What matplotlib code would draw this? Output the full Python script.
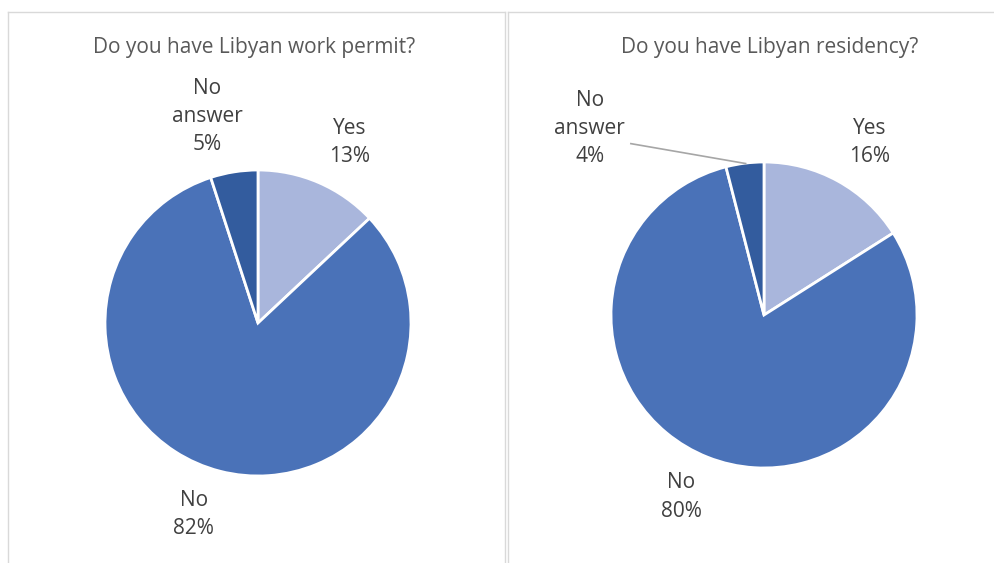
import matplotlib.pyplot as plt
from matplotlib.lines import Line2D

plt.rcParams['font.family'] = ['Open Sans', 'DejaVu Sans']

W, H = 994, 563

categories = ['Yes', 'No', 'No\nanswer']
permit_pct = [13, 82, 5]
residency_pct = [16, 80, 4]

titles = ['Do you have Libyan work permit?', 'Do you have Libyan residency?']
colors = ['#A9B6DC', '#4A72B8', '#335C9E']

# label positions (in units of pie radius) for Yes / No / No answer
permit_label_pos = [(0.60, 1.18), (-0.42, -1.25), (-0.33, 1.35)]
residency_label_pos = [(0.69, 1.13), (-0.54, -1.19), (-1.14, 1.22)]

fig = plt.figure(figsize=(W / 100, H / 100), dpi=100)
fig.patch.set_facecolor('white')


def px_line(x0, y0, x1, y1):
    fig.add_artist(Line2D([x0 / W, x1 / W], [1 - y0 / H, 1 - y1 / H],
                          color='#D9D9D9', lw=1.0, transform=fig.transFigure))


# panel borders
px_line(8, 12, 505, 12)
px_line(8, 12, 8, H)
px_line(505, 12, 505, H)
px_line(508, 12, W, 12)
px_line(508, 12, 508, H)


def draw_pie(cx, cy, r, values, title, title_x, label_pos, leader=None):
    ax = fig.add_axes([(cx - r) / W, 1 - (cy + r) / H, 2 * r / W, 2 * r / H])
    ax.pie(values, colors=colors, startangle=90, counterclock=False,
           wedgeprops=dict(edgecolor='white', linewidth=2))
    ax.set_xlim(-1, 1)
    ax.set_ylim(-1, 1)
    ax.axis('off')
    for name, v, (lx, ly) in zip(categories, values, label_pos):
        ax.text(lx, ly, f'{name}\n{v}%', ha='center', va='center',
                fontsize=15, color='#404040', linespacing=1.45, clip_on=False)
    if leader is not None:
        ax.plot(*zip(*leader), color='#A6A6A6', lw=1.2, clip_on=False)
    fig.text(title_x / W, 1 - 47 / H, title, ha='center', va='center',
             fontsize=15, color='#595959')


draw_pie(258, 323, 153, permit_pct, titles[0], 254, permit_label_pos)
draw_pie(764, 315, 153, residency_pct, titles[1], 770, residency_label_pos,
         leader=[(-0.87, 1.12), (-0.12, 0.99)])

fig.savefig('out.png', dpi=100, facecolor='white')
